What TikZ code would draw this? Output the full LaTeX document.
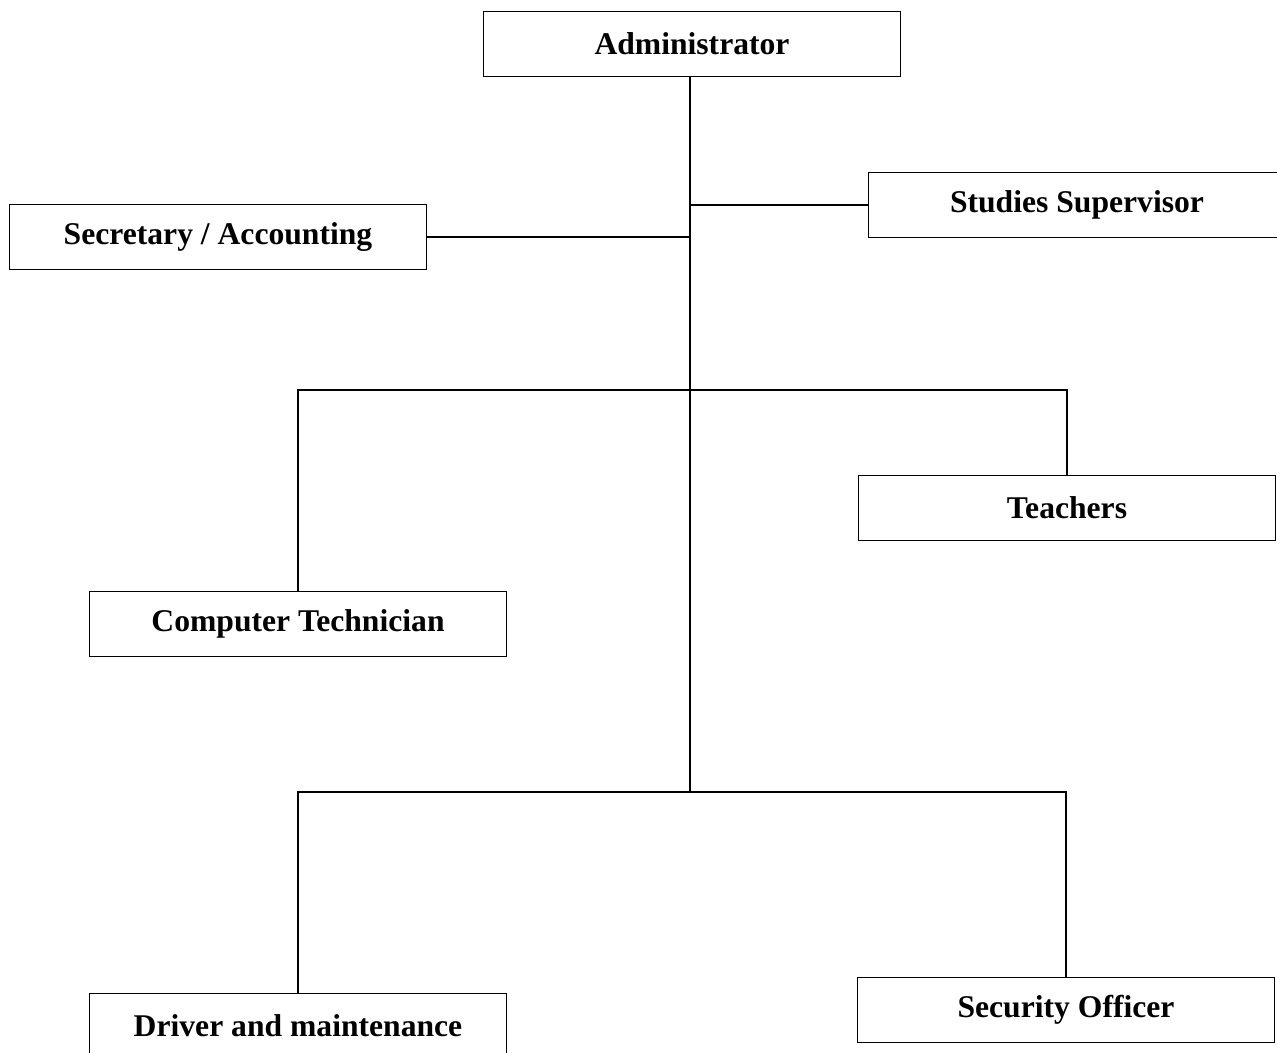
\documentclass[tikz,border=0pt]{standalone}
\usepackage{fontspec}
\setmainfont{Liberation Serif}
\begin{document}
\begin{tikzpicture}[x=0.02cm,y=-0.02cm]
		\tikzset{post/.style = {shape=rectangle,draw,line width=0.8pt,minimum width=8.34cm,minimum height=1.3cm,inner sep=0pt,font=\fontsize{18}{22}\selectfont\bfseries}}
		\tikzset{link/.style = {draw,line width=0.8pt}}
		\clip (0,0) rectangle (1277,1053);
		\node[post] (admin) at (692,44) {Administrator};
		\node[post] (super) at (1077,205) {Studies Supervisor};
		\node[post] (sec) at (218,237) {Secretary / Accounting};
		\node[post] (teach) at (1067,508) {Teachers};
		\node[post] (tech) at (298,624) {Computer Technician};
		\node[post] (driver) at (298,1026) {Driver and maintenance};
		\node[post] (secu) at (1066,1010) {Security Officer};
		\coordinate (jSup) at (690,205);
		\coordinate (jSec) at (690,237);
		\coordinate (jA) at (690,390);
		\coordinate (jB) at (690,792);
		\path[link] (admin.south -| jB) -- (jB);
		\path[link] (jSup) -- (super.west);
		\path[link] (jSec) -- (sec.east);
		\path[link] (tech.north) -- (tech.north |- jA) -- (teach.north |- jA) -- (teach.north);
		\path[link] (driver.north) -- (driver.north |- jB) -- (secu.north |- jB) -- (secu.north);
	\end{tikzpicture}
\end{document}
